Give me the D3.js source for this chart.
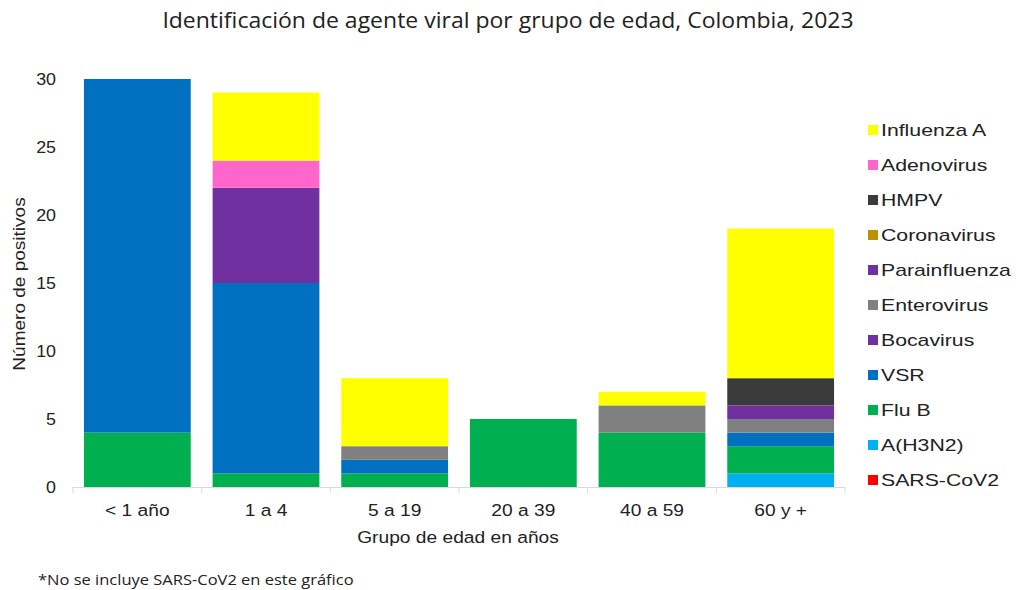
<!DOCTYPE html>
<html>
<head>
<meta charset="utf-8">
<script src="https://cdn.jsdelivr.net/npm/d3@7"></script>
<style>
  body { margin: 0; background: #fff; }
  text { font-family: "Liberation Sans", Arial, sans-serif; }
</style>
</head>
<body>
<svg id="chart" width="1016" height="590"></svg>
<script>
// age groups on the x axis
var groups = ["< 1 año", "1 a 4", "5 a 19", "20 a 39", "40 a 59", "60 y +"];

// one array per virus, values by age group (stack order bottom -> top)
var sarsCov2      = [0, 0, 0, 0, 0, 0];
var aH3N2         = [0, 0, 0, 0, 0, 1];
var fluB          = [4, 1, 1, 5, 4, 2];
var vsr           = [26, 14, 1, 0, 0, 1];
var bocavirus     = [0, 0, 0, 0, 0, 0];
var enterovirus   = [0, 0, 1, 0, 2, 1];
var parainfluenza = [0, 7, 0, 0, 0, 1];
var coronavirus   = [0, 0, 0, 0, 0, 0];
var hmpv          = [0, 0, 0, 0, 0, 2];
var adenovirus    = [0, 2, 0, 0, 0, 0];
var influenzaA    = [0, 5, 5, 0, 1, 11];

var yTicks = [0, 5, 10, 15, 20, 25, 30];

var series = [
    {name: "SARS-CoV2", values: sarsCov2, color: "#ff0000"},
    {name: "A(H3N2)", values: aH3N2, color: "#00b0f0"},
    {name: "Flu B", values: fluB, color: "#00b050"},
    {name: "VSR", values: vsr, color: "#0070c0"},
    {name: "Bocavirus", values: bocavirus, color: "#7030a0"},
    {name: "Enterovirus", values: enterovirus, color: "#808080"},
    {name: "Parainfluenza", values: parainfluenza, color: "#7030a0"},
    {name: "Coronavirus", values: coronavirus, color: "#bf9000"},
    {name: "HMPV", values: hmpv, color: "#3b3b3b"},
    {name: "Adenovirus", values: adenovirus, color: "#ff66cc"},
    {name: "Influenza A", values: influenzaA, color: "#ffff00"}
];

var svg = d3.select("#chart");

var margin = {left: 73, right: 845, top: 79, bottom: 487};

var x = d3.scaleBand()
    .domain(groups)
    .range([margin.left, margin.right])
    .paddingInner(0.17)
    .paddingOuter(0.085);

var y = d3.scaleLinear()
    .domain([0, 30])
    .range([margin.bottom, margin.top]);

// the source picture is a bit stretched sideways, so text gets a scaleX
function label(parent, tx, ty, sx, anchor, size, str) {
    return parent.append("text")
        .attr("transform", "translate(" + tx + "," + ty + ") scale(" + sx + ",1)")
        .attr("text-anchor", anchor)
        .attr("font-size", size)
        .attr("fill", "#222")
        .text(str);
}

// build table for d3.stack
var table = groups.map(function (g, i) {
    var row = {group: g};
    series.forEach(function (s) { row[s.name] = s.values[i]; });
    return row;
});

var stack = d3.stack().keys(series.map(function (s) { return s.name; }));
var layers = stack(table);

svg.append("g")
    .selectAll("g")
    .data(layers)
    .enter()
    .append("g")
    .attr("fill", function (d, i) { return series[i].color; })
    .selectAll("rect")
    .data(function (d) { return d; })
    .enter()
    .append("rect")
    .attr("x", function (d) { return x(d.data.group); })
    .attr("width", x.bandwidth())
    .attr("y", function (d) { return y(d[1]); })
    .attr("height", function (d) { return y(d[0]) - y(d[1]); });

// x axis line and separators
var xAxis = svg.append("g");
xAxis.append("line")
    .attr("x1", margin.left).attr("x2", margin.right)
    .attr("y1", margin.bottom + 0.5).attr("y2", margin.bottom + 0.5)
    .attr("stroke", "#d9d9d9");
var edges = d3.range(groups.length + 1).map(function (i) {
    return margin.left + i * (margin.right - margin.left) / groups.length;
});
xAxis.selectAll(".tk")
    .data(edges)
    .enter()
    .append("line")
    .attr("x1", function (d) { return d; }).attr("x2", function (d) { return d; })
    .attr("y1", margin.bottom).attr("y2", margin.bottom + 6)
    .attr("stroke", "#d9d9d9");

groups.forEach(function (g) {
    label(xAxis, x(g) + x.bandwidth() / 2, 516, 1.13, "middle", 17, g);
});

// y tick labels
var yAxis = svg.append("g");
yTicks.forEach(function (t) {
    label(yAxis, 56, y(t) + 6, 1.05, "end", 17, t);
});

// axis titles
svg.append("text")
    .attr("transform", "translate(25,284) rotate(-90) scale(1.12,1)")
    .attr("text-anchor", "middle")
    .attr("font-size", 17)
    .attr("fill", "#222")
    .text("Número de positivos");

label(svg, 458, 543, 1.13, "middle", 17, "Grupo de edad en años");

// title
label(svg, 508, 28, 1.095, "middle", 21, "Identificación de agente viral por grupo de edad, Colombia, 2023")
    .style("font-family", "'Open Sans', 'Noto Sans', sans-serif");

// footnote
label(svg, 38, 585, 1.1, "start", 15, "*No se incluye SARS-CoV2 en este gráfico")
    .style("font-family", "'Open Sans', 'Noto Sans', sans-serif");

// legend, top -> bottom is reverse of stack order
var legendItems = series.slice().reverse();
var legend = svg.append("g")
    .selectAll("g")
    .data(legendItems)
    .enter()
    .append("g")
    .attr("transform", function (d, i) { return "translate(868," + (130 + i * 35) + ")"; });

legend.append("rect")
    .attr("x", 0).attr("y", -5)
    .attr("width", 10).attr("height", 10)
    .attr("fill", function (d) { return d.color; });

legend.append("text")
    .attr("transform", "translate(13,6) scale(1.25,1)")
    .attr("font-size", 17)
    .attr("fill", "#222")
    .text(function (d) { return d.name; });
</script>
</body>
</html>
